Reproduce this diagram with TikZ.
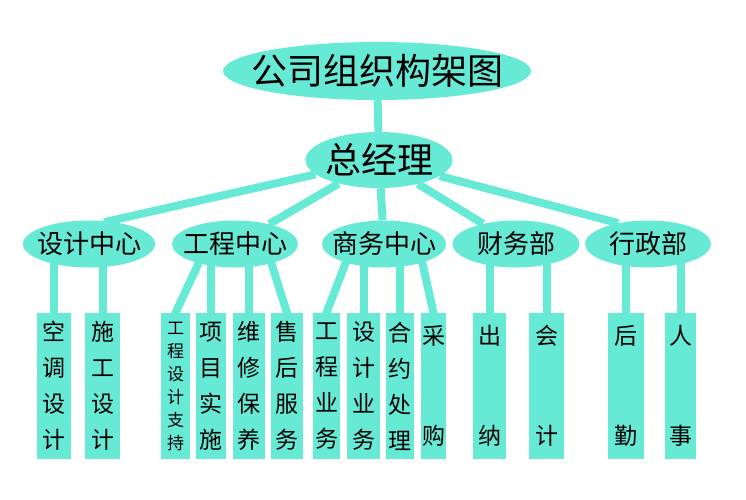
\documentclass[tikz,border=0pt]{standalone}
\usepackage{fontspec}
\newfontfamily\cjk{Noto Sans CJK SC}
\usepackage{tikz}
\usetikzlibrary{shapes.geometric,backgrounds}
\definecolor{aqua}{RGB}{102,234,214}
\tikzset{
  head/.style={ellipse, fill=aqua, inner sep=0pt, inner xsep=-60pt, minimum width=308pt, minimum height=58pt, font=\cjk\fontsize{36}{36}\selectfont},
  chief/.style={ellipse, fill=aqua, inner sep=0pt, inner xsep=-60pt, minimum width=147pt, minimum height=56pt, font=\cjk\fontsize{36}{36}\selectfont},
  dept/.style={ellipse, fill=aqua, inner sep=0pt, inner xsep=-60pt, minimum width=#1, minimum height=47pt, font=\cjk\fontsize{26}{26}\selectfont},
  unit/.style={rectangle, fill=aqua, inner sep=0pt, minimum width=#1, minimum height=146pt, align=center, font=\cjk\fontsize{23}{36}\selectfont},
  link/.style={draw=aqua, line width=8pt},
}
\begin{document}
\begin{tikzpicture}[x=1pt, y=-1pt]
  \useasboundingbox (0,0) rectangle (746,499);
  % top levels
  \node[head] (title) at (377,71) {公司组织构架图};
  \node[chief] (boss) at (379,160) {总经理};
  \node[dept=132pt] (design) at (89,244) {设计中心};
  \node[dept=126pt] (eng) at (235,244) {工程中心};
  \node[dept=124pt] (biz) at (384,244) {商务中心};
  \node[dept=127pt] (fin) at (516,244) {财务部};
  \node[dept=126pt] (admin) at (648,244) {行政部};
  % units
  \node[unit=34pt] (ktsj) at (54,386) {空\\调\\设\\计};
  \node[unit=35pt] (sgsj) at (102.5,386) {施\\工\\设\\计};
  \node[unit=29pt, font=\cjk\fontsize{17}{23}\selectfont] (gcsj) at (175.5,386) {工\\程\\设\\计\\支\\持};
  \node[unit=30pt] (xmss) at (211,386) {项\\目\\实\\施};
  \node[unit=32pt] (wxby) at (249,386) {维\\修\\保\\养};
  \node[unit=32pt] (shfw) at (287,386) {售\\后\\服\\务};
  \node[unit=27pt] (gcyw) at (326.5,386) {工\\程\\业\\务};
  \node[unit=33pt] (sjyw) at (363.5,386) {设\\计\\业\\务};
  \node[unit=28pt] (hycl) at (400,386) {合\\约\\处\\理};
  \node[unit=25pt, font=\cjk\fontsize{23}{100}\selectfont] (cg) at (433.5,386) {采\\购};
  \node[unit=33pt, font=\cjk\fontsize{23}{100}\selectfont] (cn) at (489.5,386) {出\\纳};
  \node[unit=35pt, font=\cjk\fontsize{23}{100}\selectfont] (kj) at (546.5,386) {会\\计};
  \node[unit=36pt, font=\cjk\fontsize{23}{100}\selectfont] (hq) at (626,386) {后\\勤};
  \node[unit=31pt, font=\cjk\fontsize{23}{100}\selectfont] (rs) at (680.5,386) {人\\事};
  % connectors
  \begin{scope}[on background layer]
    \draw[link] (title) -- (boss);
    \draw[link, shorten >=-4pt] (boss) -- (design.50);
    \foreach \d in {eng,biz,fin}
      \draw[link] (boss) -- (\d);
    \draw[link] (boss) -- (admin.145);
    \foreach \u/\d in {ktsj/design,sgsj/design,xmss/eng,wxby/eng,sjyw/biz,hycl/biz,cn/fin,kj/fin,hq/admin,rs/admin}
      \draw[link] (\u.north) -- (\u |- \d);
    \draw[link, shorten <=-4pt, shorten >=-4pt] (eng.208) -- (gcsj.north);
    \draw[link, shorten <=-4pt, shorten >=-4pt] (eng.-28) -- (shfw.north);
    \draw[link, shorten <=-4pt, shorten >=-4pt] (biz.206) -- (gcyw.north);
    \draw[link, shorten <=-4pt, shorten >=-4pt] (biz.-26) -- (cg.north);
  \end{scope}
\end{tikzpicture}
\end{document}
